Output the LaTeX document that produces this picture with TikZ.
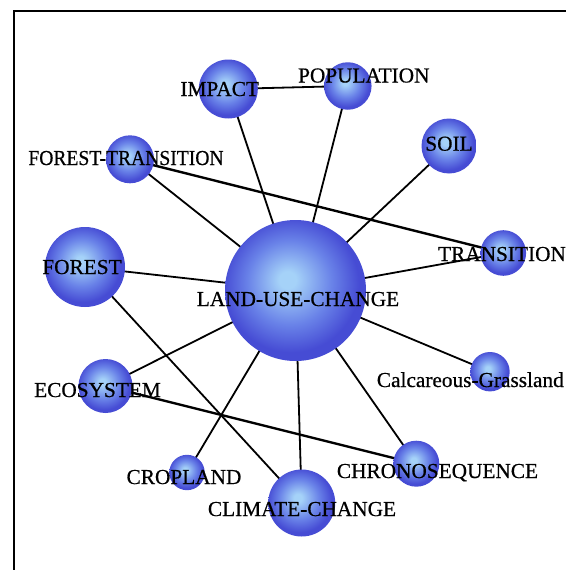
\documentclass[tikz,border=0pt]{standalone}
\usepackage{fontspec}
\setmainfont{Liberation Serif}
\newfontfamily\labfont{Liberation Serif}[FakeBold=0.6]
\pgfdeclarelayer{bg}
\pgfsetlayers{bg,main}
\definecolor{ballhi}{RGB}{165,210,248}
\definecolor{ballmid}{RGB}{105,130,232}
\definecolor{balledge}{RGB}{70,76,212}
\pgfdeclareradialshading{myball}{\pgfpoint{-3bp}{4bp}}{%
  color(0bp)=(ballhi); color(3bp)=(ballhi); color(15bp)=(ballmid);
  color(24bp)=(balledge); color(26bp)=(balledge); color(50bp)=(balledge)}
\begin{document}
\begin{tikzpicture}[x=1pt,y=-1pt,
  ball/.style={circle, inner sep=0pt, draw=none, shade, shading=myball, minimum size=#1},
  lab/.style={inner sep=0pt, text height=14pt, text depth=0pt,
    font=\labfont\fontsize{21.3}{24}\selectfont, text=black},
  edge/.style={line width=1.8pt, black},
  thickedge/.style={line width=2.4pt, black}]
\useasboundingbox (0,0) rectangle (565,570);
\draw[line width=1.8pt] (14,571) -- (14,11) -- (566,11);
% circles
\node[ball=141pt] (luc) at (295.5,290.5) {};
\node[ball=59pt] (impact) at (228.3,89) {};
\node[ball=47.5pt] (pop) at (347.8,86) {};
\node[ball=55pt] (soil) at (449,146) {};
\node[ball=48pt] (ft) at (130,159.3) {};
\node[ball=45.6pt] (trans) at (503.3,253) {};
\node[ball=80pt] (forest) at (85,267) {};
\node[ball=54pt] (eco) at (105.5,386) {};
\node[ball=39.4pt] (calc) at (490,371.7) {};
\node[ball=35.4pt] (crop) at (187,472.5) {};
\node[ball=67pt] (climate) at (301.7,503) {};
\node[ball=46pt] (chrono) at (416.3,463.7) {};
% edges
\begin{pgfonlayer}{bg}
\draw[edge] (impact.center) -- (pop.center);
\draw[edge] (impact.center) -- (luc.center);
\draw[edge] (pop.center) -- (luc.center);
\draw[edge] (soil.center) -- (luc.center);
\draw[edge] (ft.center) -- (luc.center);
\draw[thickedge] (ft.center) -- (trans.center);
\draw[edge] (forest.center) -- (luc.center);
\draw[edge] (trans.center) -- (luc.center);
\draw[edge] (forest.center) -- (climate.center);
\draw[edge] (eco.center) -- (luc.center);
\draw[thickedge] (eco.center) -- (chrono.center);
\draw[edge] (calc.center) -- (luc.center);
\draw[edge] (crop.center) -- (luc.center);
\draw[edge] (climate.center) -- (luc.center);
\draw[edge] (chrono.center) -- (luc.center);
\end{pgfonlayer}
% labels
\node[lab] (luc-l) at (298,299) {LAND-USE-CHANGE};
\node[lab] (impact-l) at (219.7,89) {IMPACT};
\node[lab] (pop-l) at (363.8,75.5) {POPULATION};
\node[lab] (soil-l) at (449,143.7) {SOIL};
\node[lab] (ft-l) at (126,158) {\scalebox{0.92}[1]{FOREST-TRANSITION}};
\node[lab] (trans-l) at (502,254) {TRANSITION};
\node[lab] (forest-l) at (82,267) {FOREST};
\node[lab] (eco-l) at (97.5,390) {ECOSYSTEM};
\node[lab] (calc-l) at (470.3,380) {Calcareous-Grassland};
\node[lab] (crop-l) at (184,477) {CROPLAND};
\node[lab] (climate-l) at (302,509) {CLIMATE-CHANGE};
\node[lab] (chrono-l) at (437.5,471) {CHRONOSEQUENCE};
\end{tikzpicture}
\end{document}
